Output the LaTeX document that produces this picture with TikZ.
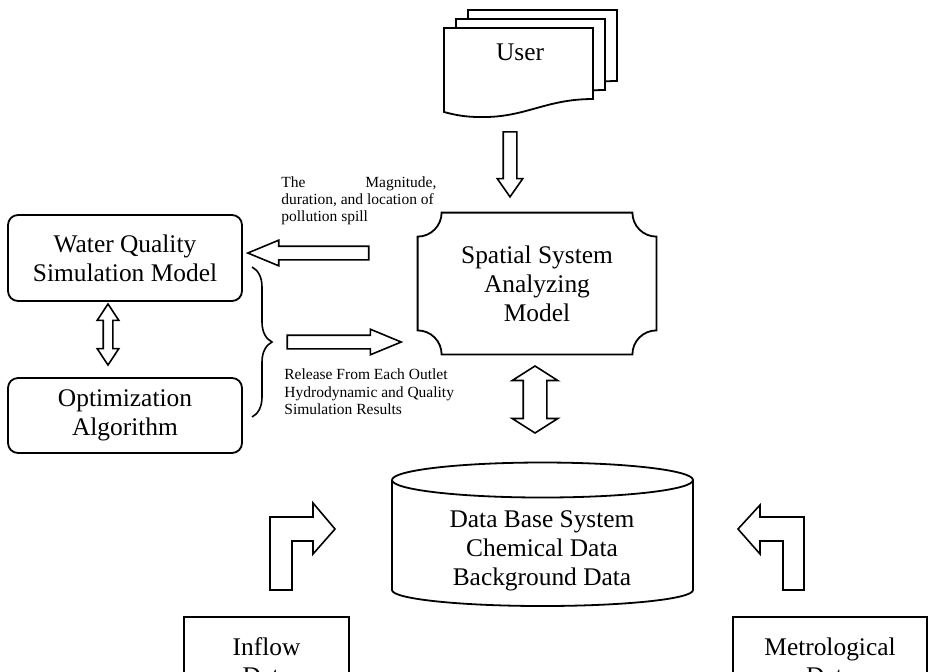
\documentclass[tikz,border=0pt]{standalone}
\usepackage{fontspec}
\setmainfont{Liberation Serif}
\usetikzlibrary{shapes.arrows, decorations.pathreplacing}

\tikzset{
  mainfont/.style={font=\fontsize{12.7}{14.5}\selectfont},
  notefont/.style={font=\fontsize{7.75}{8.7}\selectfont},
  outline/.style={draw, line width=0.9pt},
  hollow/.style={draw, fill=white, line width=0.8pt},
  modelbox/.style={outline, rounded corners=5pt, minimum width=117pt, align=center, mainfont},
  databox/.style={outline, minimum height=44pt, align=center, mainfont},
  blockarrow/.style={single arrow, hollow, inner sep=3pt, single arrow head extend=3pt, minimum width=12pt},
  twinarrow/.style={double arrow, hollow}
}

\begin{document}
\begin{tikzpicture}[x=0.5pt, y=-0.5pt]
  \clip (0,0) rectangle (929,671);

  % User
  \foreach \d in {2,1,0}
    \draw[hollow, line width=0.9pt, shift={(12*\d,-9*\d)}] (444,28) -- (593,28) -- (593,99)
      .. controls (545,99) and (525,118) .. (480,117)
      .. controls (462,117) and (452,114) .. (444,112) -- cycle;
  \node[mainfont] (user) at (520,52) {User};
  \node[blockarrow, rotate=-90, minimum height=32.5pt, single arrow tip angle=70] (userarrow) at (510,159.5) {};

  % Spatial system analyzing model
  \node[mainfont, align=center, minimum width=119pt, minimum height=70.5pt, inner sep=0pt] (ssam) at (537,283.5) {Spatial System\\Analyzing\\Model};
  \draw[line width=0.9pt] ([yshift=-12pt]ssam.north west) arc[start angle=-90, end angle=0, radius=12pt]
    -- ([xshift=-12pt]ssam.north east) arc[start angle=180, end angle=270, radius=12pt]
    -- ([yshift=12pt]ssam.south east) arc[start angle=90, end angle=180, radius=12pt]
    -- ([xshift=12pt]ssam.south west) arc[start angle=0, end angle=90, radius=12pt] -- cycle;

  % Models on the left
  \node[modelbox, minimum height=43pt] (wqsm) at (125,258) {Water Quality\\Simulation Model};
  \node[modelbox, minimum height=37.5pt] (optalg) at (125,415.5) {Optimization\\Algorithm};
  \node[twinarrow, rotate=90, minimum height=30.5pt, minimum width=10pt, inner sep=2pt,
    double arrow head extend=3pt, double arrow tip angle=67] (wqopt) at (108,334.5) {};
  \draw[line width=0.8pt, decorate, decoration={brace, amplitude=10pt}] (252,267) -- (252,417);

  % Notes and arrows to the model
  \node[notefont, align=left, inner sep=0pt, anchor=north west] (spillnote) at (281,176)
    {\hbox to 77.5pt{The\hfill Magnitude,}\\duration, and location of\\pollution spill};
  \node[blockarrow, shape border rotate=180, minimum height=60.5pt, single arrow tip angle=45] (spillarrow) at (316.5,253) {};
  \node[blockarrow, minimum height=57pt, single arrow tip angle=45] (releasearrow) at (336,342) {};
  \node[notefont, align=left, inner sep=0pt, anchor=north west] (releasenote) at (284,368.5)
    {Release From Each Outlet\\Hydrodynamic and Quality\\Simulation Results};

  % Data base system
  \node[twinarrow, rotate=90, minimum height=33.5pt, minimum width=22pt, inner sep=5.5pt,
    double arrow head extend=5.5pt, double arrow tip angle=115] (ssamdb) at (535,399.5) {};
  \draw[line width=0.9pt] (542.5,480) ellipse [x radius=75.25pt, y radius=8.75pt];
  \draw[line width=0.9pt] (392,480) -- (392,590) arc[start angle=180, end angle=360, x radius=75.25pt, y radius=8pt] -- (693,480);
  \node[mainfont, align=center] (dbsys) at (542,551) {Data Base System\\Chemical Data\\Background Data};

  % Inflow and metrological data
  \node[databox, minimum width=82.5pt] (inflow) at (266.5,661) {Inflow\\Data};
  \node[databox, minimum width=97pt] (metro) at (830,661) {Metrological\\Data};
  \draw[hollow] (270,590) -- (270,517) -- (313,517) -- (313,503) -- (335,529) -- (313,554)
    -- (313,541) -- (292,541) -- (292,590) -- cycle;
  \draw[hollow] (804,590) -- (804,517) -- (760,517) -- (760,505) -- (738,529) -- (760,554)
    -- (760,541) -- (783,541) -- (783,590) -- cycle;
\end{tikzpicture}
\end{document}
